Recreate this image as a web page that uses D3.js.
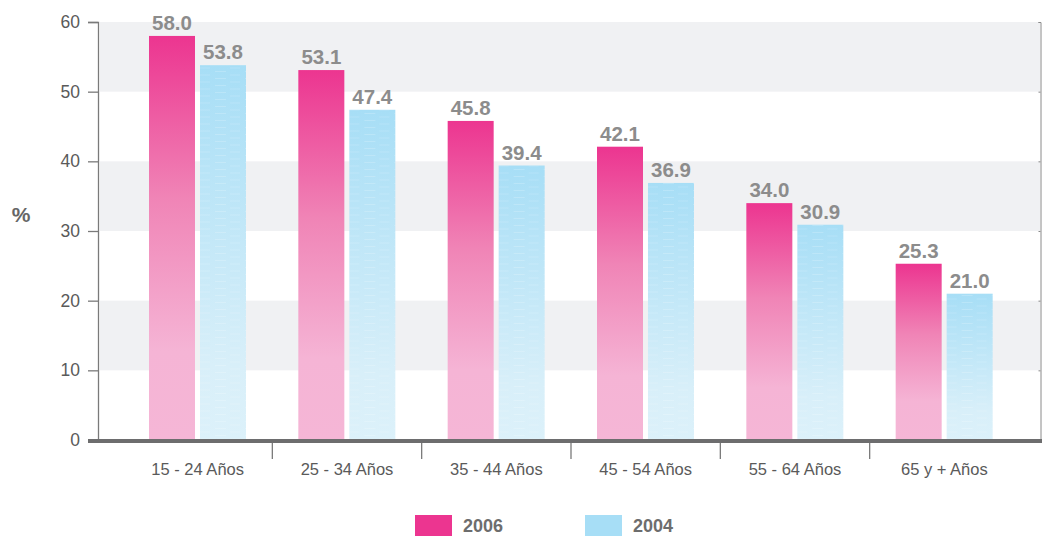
<!DOCTYPE html>
<html><head><meta charset="utf-8">
<script src="https://cdn.jsdelivr.net/npm/d3@7"></script>
<style>body{margin:0;background:#fff;}svg{display:block;font-family:"Liberation Sans",Arial,sans-serif;}</style>
</head><body><svg id="c" width="1042" height="536"></svg>
<script>
const categories = ["15 - 24 Años","25 - 34 Años","35 - 44 Años","45 - 54 Años","55 - 64 Años","65 y + Años"];
const series = ["2006","2004"];
const values2006 = [58.0, 53.1, 45.8, 42.1, 34.0, 25.3];
const values2004 = [53.8, 47.4, 39.4, 36.9, 30.9, 21.0];
const yTicks = [0,10,20,30,40,50,60];
const bandRanges = [[50,60],[30,40],[10,20]];

const svg = d3.select("#c");
const defs = svg.append("defs");
const gP = defs.append("linearGradient").attr("id","gp").attr("x1",0).attr("y1",0).attr("x2",0).attr("y2",1);
gP.append("stop").attr("offset","0").attr("stop-color","#ec3590");
gP.append("stop").attr("offset","0.4").attr("stop-color","#f084b6");
gP.append("stop").attr("offset","0.78").attr("stop-color","#f5b4d5");
gP.append("stop").attr("offset","1").attr("stop-color","#f5b6d6");
const gB = defs.append("linearGradient").attr("id","gb").attr("x1",0).attr("y1",0).attr("x2",0).attr("y2",1);
gB.append("stop").attr("offset","0").attr("stop-color","#a7def6");
gB.append("stop").attr("offset","0.8").attr("stop-color","#d8eff9");
gB.append("stop").attr("offset","1").attr("stop-color","#dcf1fa");
const pat = defs.append("pattern").attr("id","pb").attr("patternUnits","userSpaceOnUse").attr("width",30).attr("height",7);
pat.append("line").attr("x1",2).attr("x2",13).attr("y1",1.5).attr("y2",1.5).attr("stroke","#fff").attr("stroke-opacity",0.18).attr("stroke-width",1);
pat.append("line").attr("x1",17).attr("x2",27).attr("y1",5).attr("y2",5).attr("stroke","#fff").attr("stroke-opacity",0.15).attr("stroke-width",1);

const y = d3.scaleLinear().domain([0,60]).range([440,22]);
const x0 = d3.scaleBand().domain(categories).range([123,1019]).padding(0);
const x1 = d3.scaleBand().domain(series).range([26,123]).paddingInner(0.098).paddingOuter(0);

// background bands
svg.append("g").selectAll("rect").data(bandRanges).join("rect")
  .attr("x",100).attr("width",940)
  .attr("y",d=>y(d[1])).attr("height",d=>y(d[0])-y(d[1]))
  .attr("fill","#f0f1f3");

// left axis
const ya = svg.append("g").attr("transform","translate(98,0)")
  .call(d3.axisLeft(y).tickValues(yTicks).tickSize(10).tickPadding(8).tickFormat(d3.format("d")));
ya.select(".domain").attr("stroke","#7a7a7a").attr("stroke-width",1.3);
ya.selectAll(".tick line").attr("stroke","#7a7a7a").attr("stroke-width",1.3);
ya.selectAll("text").attr("fill","#5a5a5a").attr("font-size",17.5).attr("font-family","Arimo, 'Liberation Sans', Arial, sans-serif");

// right axis
const yr = svg.append("g").attr("transform","translate(1040.5,0)")
  .call(d3.axisLeft(y).tickValues(yTicks).tickSize(2).tickFormat(""));
yr.select(".domain").attr("stroke","#8a8a8a").attr("stroke-width",1);
yr.selectAll(".tick line").attr("stroke","#8a8a8a");

// bars
const data = categories.map((c,i)=>({c, vals:[{s:"2006",v:values2006[i]},{s:"2004",v:values2004[i]}]}));
const grp = svg.append("g").selectAll("g").data(data).join("g")
  .attr("transform",d=>`translate(${x0(d.c)},0)`);
grp.selectAll("rect.bar").data(d=>d.vals).join("rect").attr("class","bar")
  .attr("x",d=>x1(d.s)).attr("width",x1.bandwidth())
  .attr("y",d=>y(d.v)).attr("height",d=>y(0)-y(d.v))
  .attr("fill",d=>d.s==="2006"?"url(#gp)":"url(#gb)");
grp.selectAll("rect.tex").data(d=>d.vals.filter(v=>v.s==="2004")).join("rect").attr("class","tex")
  .attr("x",d=>x1(d.s)).attr("width",x1.bandwidth())
  .attr("y",d=>y(d.v)).attr("height",d=>y(0)-y(d.v))
  .attr("fill","url(#pb)");
grp.selectAll("text").data(d=>d.vals).join("text")
  .attr("x",d=>x1(d.s)+x1.bandwidth()/2).attr("y",d=>y(d.v)-6)
  .attr("text-anchor","middle").attr("font-size",20.5).attr("font-weight","bold")
  .attr("fill","#8c8c8c").text(d=>d3.format(".1f")(d.v));

// x axis
const xa = svg.append("g").attr("transform","translate(0,441)");
xa.append("line").attr("x1",88).attr("x2",1042).attr("y1",0).attr("y2",0)
  .attr("stroke","#6d6d6e").attr("stroke-width",4);
xa.selectAll("line.t").data(categories.slice(1)).join("line").attr("class","t")
  .attr("x1",d=>x0(d)).attr("x2",d=>x0(d)).attr("y1",2).attr("y2",18)
  .attr("stroke","#7a7a7a").attr("stroke-width",1.3);
xa.selectAll("text").data(categories).join("text")
  .attr("x",d=>x0(d)+x0.bandwidth()/2).attr("y",34)
  .attr("text-anchor","middle").attr("font-size",16.5).attr("fill","#5a5a5a").text(d=>d);

// y label
svg.append("text").attr("x",21).attr("y",222).attr("text-anchor","middle")
  .attr("font-size",21).attr("font-weight","bold").attr("fill","#666").text("%");

// legend
const legendColors = {"2006":"#ec3590","2004":"#a7def6"};
const leg = svg.append("g").selectAll("g").data(series).join("g")
  .attr("transform",(d,i)=>`translate(${415+i*170},515)`);
leg.append("rect").attr("width",37).attr("height",24).attr("fill",d=>legendColors[d]);
leg.append("text").attr("x",48).attr("y",16.5).attr("font-size",18).attr("font-weight","bold")
  .attr("fill","#6d6d6d").text(d=>d);
</script></body></html>
